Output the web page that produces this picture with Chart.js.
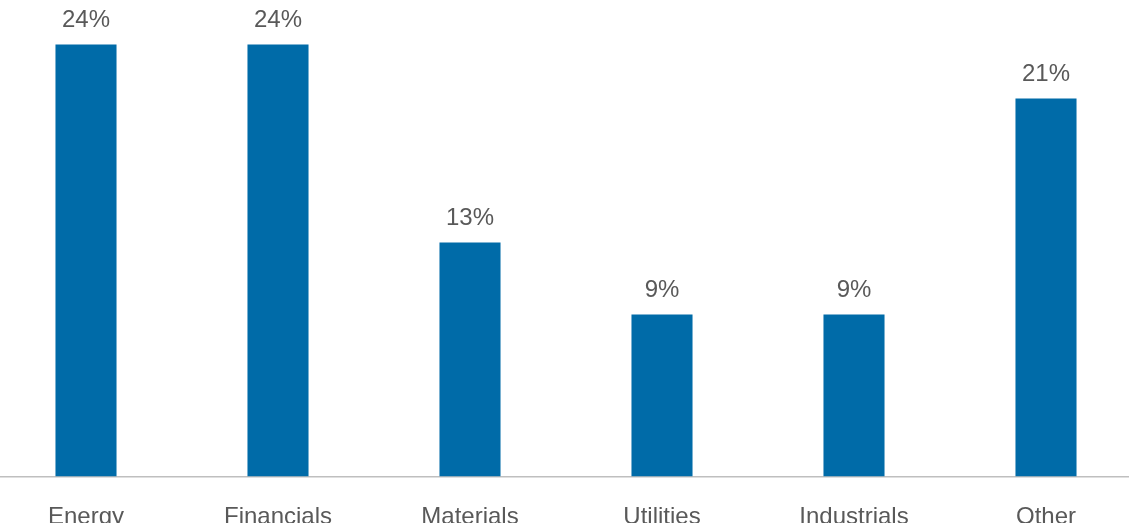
<!DOCTYPE html>
<html>
<head>
<meta charset="utf-8">
<script src="https://cdn.jsdelivr.net/npm/chart.js@4/dist/chart.umd.min.js"></script>
<style>
	html, body { margin: 0; padding: 0; background: #fff; overflow: hidden; }
	#wrap { position: absolute; left: -10px; top: 0; width: 1152px; height: 523px; }
</style>
</head>
<body>
<div id="wrap"><canvas id="sectorChart"></canvas></div>
<script>
const sectors = ['Energy', 'Financials', 'Materials', 'Utilities', 'Industrials', 'Other'];
const weights = [24, 24, 13, 9, 9, 21];

const FONT = '"Liberation Sans", Arial, sans-serif';
const TEXT_COLOR = '#595959';

// percent labels above each bar
const barValueLabels = {
	id: 'barValueLabels',
	afterDatasetsDraw(chart) {
		const { ctx } = chart;
		const meta = chart.getDatasetMeta(0);
		ctx.save();
		ctx.font = '24px ' + FONT;
		ctx.fillStyle = TEXT_COLOR;
		ctx.textAlign = 'center';
		ctx.textBaseline = 'alphabetic';
		meta.data.forEach((bar, i) => {
			ctx.fillText(weights[i] + '%', bar.x, bar.y - 18);
		});
		ctx.restore();
	}
};

const ctx = document.getElementById('sectorChart').getContext('2d');

// eslint-disable-next-line no-undef
new Chart(ctx, {
	type: 'bar',
	data: {
		labels: sectors,
		datasets: [{
			data: weights,
			backgroundColor: '#006BA8',
			barPercentage: 0.318,
			categoryPercentage: 1
		}]
	},
	options: {
		responsive: true,
		maintainAspectRatio: false,
		animation: false,
		layout: { padding: 0 },
		scales: {
			x: {
				grid: { display: false },
				border: { display: true, color: '#BFBFBF', width: 1.5 },
				ticks: {
					color: TEXT_COLOR,
					font: { family: FONT, size: 24 },
					padding: 18,
					maxRotation: 0
				},
				afterFit(scale) { scale.height = 46.5; }
			},
			y: {
				display: false,
				min: 0,
				max: 476.5 / 18
			}
		},
		plugins: {
			legend: { display: false },
			tooltip: { enabled: false }
		}
	},
	plugins: [barValueLabels]
});
</script>
</body>
</html>
